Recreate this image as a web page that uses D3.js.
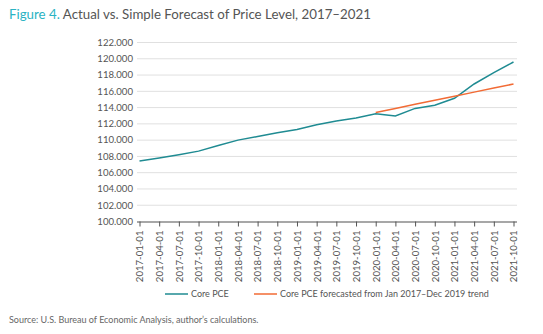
<!DOCTYPE html>
<html>
<head>
<meta charset="utf-8">
<script src="https://cdn.jsdelivr.net/npm/d3@7"></script>
<style>
  body { margin: 0; background: #fff; }
  text { font-family: Lato, "Open Sans", sans-serif; }
</style>
</head>
<body>
<div id="chart"></div>
<script>
// quarterly dates on the category axis
var dates = ["2017-01-01","2017-04-01","2017-07-01","2017-10-01",
  "2018-01-01","2018-04-01","2018-07-01","2018-10-01",
  "2019-01-01","2019-04-01","2019-07-01","2019-10-01",
  "2020-01-01","2020-04-01","2020-07-01","2020-10-01",
  "2021-01-01","2021-04-01","2021-07-01","2021-10-01"];

var corePCE = [107.45, 107.8, 108.2, 108.65, 109.35, 110.0, 110.45, 110.9,
  111.3, 111.88, 112.36, 112.72, 113.25, 112.98, 113.9, 114.3,
  115.15, 116.9, 118.3, 119.6];

// forecast starts in 2020-01
var forecastDates = dates.slice(12);
var forecast = [113.4, 113.9, 114.4, 114.9, 115.4, 115.9, 116.4, 116.9];

var yTicks = [100, 102, 104, 106, 108, 110, 112, 114, 116, 118, 120, 122];

var width = 543, height = 334;
var teal = "#1f8b92", orange = "#f26b35";

var svg = d3.select("#chart").append("svg")
  .attr("width", width)
  .attr("height", height);

// title
var title = svg.append("text")
  .attr("x", 9)
  .attr("y", 19)
  .attr("font-size", "13.3px")
  .attr("fill", "#555");
title.append("tspan").attr("fill", "#2ab3c3").text("Figure 4. ");
title.append("tspan").text("Actual vs. Simple Forecast of Price Level, 2017\u20132021");

var x = d3.scalePoint()
  .domain(dates)
  .range([139.5, 513.5]);

var y = d3.scaleLinear()
  .domain([100, 122])
  .range([221.5, 42.5]);

// gridlines
svg.append("g")
  .selectAll("line")
  .data(yTicks.slice(1))
  .enter().append("line")
    .attr("x1", 137)
    .attr("x2", 517)
    .attr("y1", d => y(d))
    .attr("y2", d => y(d))
    .attr("stroke", "#e0e0e0")
    .attr("stroke-width", 1);

// y axis labels
svg.append("g")
  .selectAll("text")
  .data(yTicks)
  .enter().append("text")
    .attr("x", 133)
    .attr("y", d => y(d))
    .attr("dy", "0.35em")
    .attr("text-anchor", "end")
    .attr("font-size", "9.6px")
    .attr("fill", "#555")
    .text(d => d3.format(".3f")(d));

// x axis
var xAxis = svg.append("g")
  .attr("transform", "translate(0," + y(100) + ")")
  .call(d3.axisBottom(x).tickSize(5).tickPadding(4));

xAxis.select(".domain").attr("d", "M137,0.5H517").attr("stroke", "#8a8a8a").attr("stroke-width", 1.5);
xAxis.selectAll(".tick line").attr("stroke", "#555");
xAxis.selectAll(".tick text")
  .attr("transform", "rotate(-90)")
  .attr("text-anchor", "end")
  .attr("x", -9)
  .attr("y", 0)
  .attr("dy", "0.35em")
  .attr("font-size", "9.6px")
  .attr("font-family", "Lato, 'Open Sans', sans-serif")
  .attr("fill", "#555");

var line = d3.line()
  .x(d => x(d[0]))
  .y(d => y(d[1]));

svg.append("path")
  .datum(dates.map((d, i) => [d, corePCE[i]]))
  .attr("d", line)
  .attr("fill", "none")
  .attr("stroke", teal)
  .attr("stroke-width", 1.5);

svg.append("path")
  .datum(forecastDates.map((d, i) => [d, forecast[i]]))
  .attr("d", line)
  .attr("fill", "none")
  .attr("stroke", orange)
  .attr("stroke-width", 1.5);

// legend
var legend = [
  {label: "Core PCE", color: teal, x: 165},
  {label: "Core PCE forecasted from Jan 2017\u2013Dec 2019 trend", color: orange, x: 254}
];
var lg = svg.append("g")
  .selectAll("g")
  .data(legend)
  .enter().append("g")
    .attr("transform", d => "translate(" + d.x + ",294)");
lg.append("line")
  .attr("x1", 0).attr("x2", 23)
  .attr("stroke", d => d.color)
  .attr("stroke-width", 1.5);
lg.append("text")
  .attr("x", 26)
  .attr("dy", "0.35em")
  .attr("font-size", "9px")
  .attr("fill", "#555")
  .text(d => d.label);

// source
svg.append("text")
  .attr("x", 9)
  .attr("y", 323)
  .attr("font-size", "9px")
  .attr("fill", "#666")
  .text("Source: U.S. Bureau of Economic Analysis, author\u2019s calculations.");
</script>
</body>
</html>
